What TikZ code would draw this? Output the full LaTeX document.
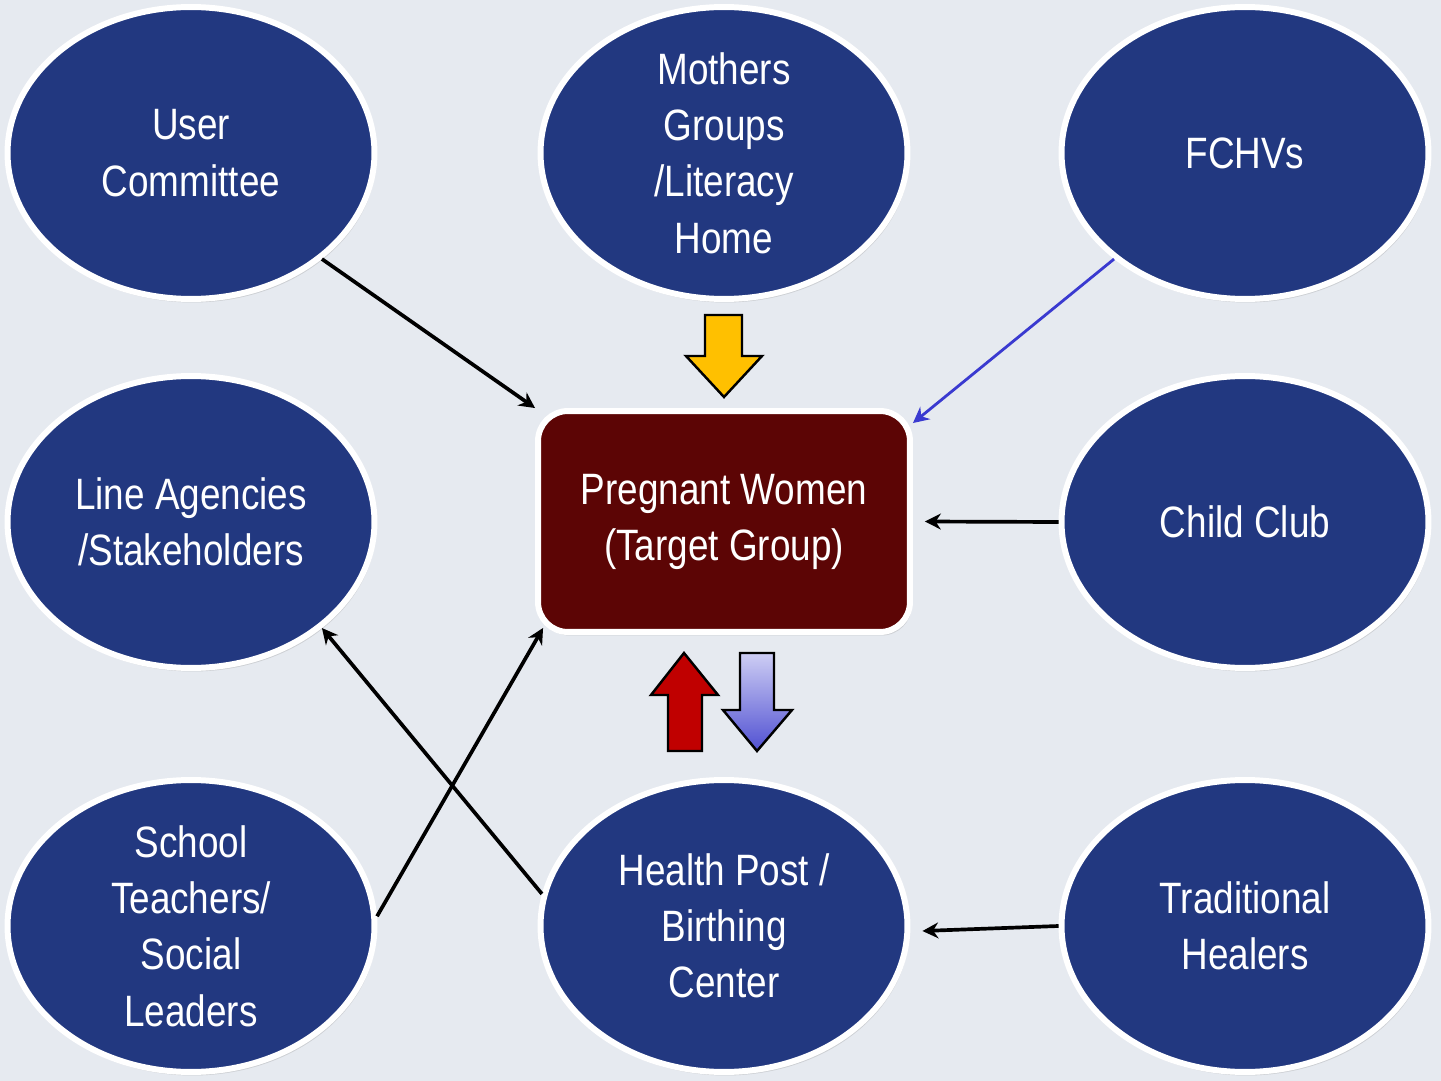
\documentclass[tikz,border=0pt]{standalone}
\usepackage{fontspec}
\setmainfont[FakeStretch=0.84]{Liberation Sans}
\usetikzlibrary{shapes.geometric,arrows.meta,shadows,calc}
\definecolor{bg}{RGB}{230,234,240}
\definecolor{nodeblue}{RGB}{34,56,128}
\definecolor{targetred}{RGB}{92,5,5}
\definecolor{yarrow}{RGB}{255,192,0}
\definecolor{rarrow}{RGB}{192,0,0}
\definecolor{linkblue}{RGB}{58,58,208}
\definecolor{lavtop}{RGB}{206,206,244}
\definecolor{lavbot}{RGB}{80,80,210}
\begin{document}
\begin{tikzpicture}[x=0.02cm,y=-0.02cm,
  bubble/.style={ellipse, fill=nodeblue, draw=white, line width=3.4pt,
    minimum width=7.34cm, minimum height=5.84cm, inner sep=0pt, text=white,
    align=center, font=\fontsize{25}{32}\selectfont,
    drop shadow={opacity=0.25, shadow xshift=1pt, shadow yshift=-2pt}},
  target/.style={rectangle, rounded corners=0.6cm, fill=targetred, draw=white,
    line width=3.4pt, minimum width=7.44cm, minimum height=4.42cm, text=white,
    align=center, font=\fontsize{25}{32}\selectfont,
    drop shadow={opacity=0.25, shadow xshift=1pt, shadow yshift=-2pt}},
  link/.style={line width=2.1pt, -{Stealth[length=9pt,width=9pt]}},
  blockarrow/.style={draw=black, line width=1.4pt, line join=miter}
]
\fill[bg] (0,0) rectangle (1441,1081);
\useasboundingbox (0,0) rectangle (1441,1081);

\node[bubble] (uc) at (191,153) {User\\Committee};
\node[bubble] (mg) at (724,153) {Mothers\\Groups\\/Literacy\\Home};
\node[bubble] (fc) at (1245,153) {FCHVs};
\node[bubble] (la) at (191,522) {Line Agencies\\/Stakeholders};
\node[bubble] (cc) at (1245,522) {Child Club};
\node[bubble] (st) at (191,926) {School\\Teachers/\\Social\\Leaders};
\node[bubble] (hp) at (724,926) {Health Post /\\Birthing\\Center};
\node[bubble] (th) at (1245,926) {Traditional\\Healers};
\node[target] (pw) at (724,521.5) {\raisebox{-3.5pt}{\begin{tabular}{@{}c@{}}Pregnant Women\\(Target Group)\end{tabular}}};

% block arrows
\path[blockarrow, fill=yarrow] (705,315) -- (742,315) -- (742,356) -- (762,356)
  -- (724,397) -- (686,356) -- (705,356) -- cycle;
\path[blockarrow, fill=rarrow] (684,653) -- (718,695) -- (702,695) -- (702,751)
  -- (668,751) -- (668,695) -- (651,695) -- cycle;
\path[blockarrow, top color=lavtop, bottom color=lavbot] (740,653) -- (774,653)
  -- (774,710) -- (792,710) -- (757,751) -- (723,710) -- (740,710) -- cycle;

% connectors
\draw[link] (uc.-39) -- (pw.north west);
\draw[link, linkblue, line width=1.6pt] (fc.-141) -- ($(pw.north east)+(0,15)$);
\draw[link] (cc.west) -- ($(pw.east)+(12,0)$);
\draw[link] (th.west) -- ($(hp.east)+(12,5)$);
\draw[link] (st.3) -- ($(pw.south west)+(8,-7)$);
\draw[link] (hp.170) -- (la.-39);
\end{tikzpicture}
\end{document}
